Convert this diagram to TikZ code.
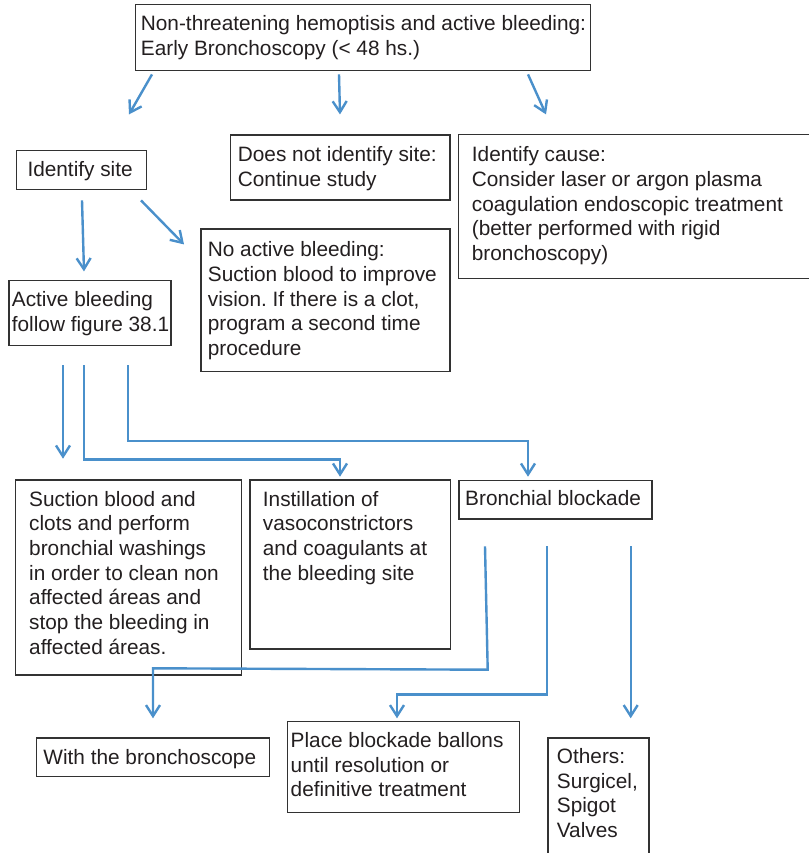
\documentclass[tikz,border=0pt]{standalone}
\usepackage{fontspec}
\setmainfont{Liberation Sans}
\usetikzlibrary{arrows.meta,calc}
\definecolor{txtc}{RGB}{35,31,32}
\definecolor{boxc}{RGB}{50,50,50}
\definecolor{arrc}{RGB}{74,144,203}
\frenchspacing
\newcommand{\ml}[1]{\begin{tabular}[t]{@{}l@{}}#1\end{tabular}}
\newcommand{\bx}[8]{%
  \node[box, minimum width={#4-#2}, minimum height={#5-#3}] (#1) at (#2,#3) {};
  \node[txt] (#1t) at ($(#1.north west)+(#6,#7)$) {\ml{#8}};}
\begin{document}
\begin{tikzpicture}[x=1pt,y=-1pt,
  box/.style={draw=boxc, line width=1.4pt, inner sep=0pt, anchor=north west},
  txt/.style={inner sep=0pt, anchor=base west, text=txtc, font=\fontsize{20.8}{24.7}\selectfont\frenchspacing},
  arr/.style={draw=arrc, line width=2.4pt, -{Straight Barb[length=11pt,width=14pt]}}]
\useasboundingbox[fill=white] (0,0) rectangle (808,853);

\bx{top}{135}{4}{590}{70}{5.7}{26.5}{Non-threatening hemoptisis and active bleeding:\\Early Bronchoscopy (< 48 hs.)}
\bx{site}{15.7}{150}{145.7}{189}{11.6}{26}{Identify site}
\bx{nosite}{230}{134.3}{449.3}{199.3}{7.7}{27.4}{Does not identify site:\\Continue study}
\bx{cause}{458}{134}{812}{278}{13.7}{27.7}{Identify cause:\\Consider laser or argon plasma\\coagulation endoscopic treatment\\(better performed with rigid\\bronchoscopy)}
\bx{noact}{200.3}{228.3}{449.3}{371}{7.4}{28.4}{No active bleeding:\\Suction blood to improve\\vision. If there is a clot,\\program a second time\\procedure}
\bx{act}{8.3}{280}{170.3}{345}{3.4}{26.7}{Active bleeding\\follow figure 38.1}
\bx{suc}{15}{479.3}{240.7}{674.3}{14}{26.7}{Suction blood and\\clots and perform\\bronchial washings\\in order to clean non\\affected áreas and\\stop the bleeding in\\affected áreas.}
\bx{inst}{249.3}{479.3}{450}{648.3}{13.4}{26.7}{Instillation of\\vasoconstrictors\\and coagulants at\\the bleeding site}
\bx{bron}{458.3}{480}{651.3}{518.3}{6.7}{25.7}{Bronchial blockade}
\bx{with}{35.8}{737.3}{268.6}{776}{7.4}{26.7}{With the bronchoscope}
\bx{place}{287}{720.7}{518.6}{811.7}{3.5}{26.6}{Place blockade ballons\\until resolution or\\definitive treatment}
\bx{oth}{547.3}{737.3}{648.3}{870}{9.4}{26}{Others:\\Surgicel,\\Spigot\\Valves}

% arrows from top box
\coordinate (a1s) at ($(top.south west)+(17,3)$);
\coordinate (a1e) at ($(top.south west)+(-6,43)$);
\coordinate (a2s) at ($(top.south west)+(204,3)$);
\coordinate (a2e) at ($(top.south west)+(205,43)$);
\coordinate (a3s) at ($(top.south west)+(393,3)$);
\coordinate (a3e) at ($(top.south west)+(411,43)$);
\draw[arr] (a1s) -- (a1e);
\draw[arr] (a2s) -- (a2e);
\draw[arr] (a3s) -- (a3e);

% arrows from identify site
\coordinate (a4s) at ($(site.south west)+(66.3,10)$);
\coordinate (a4e) at ($(site.south west)+(68.3,81)$);
\coordinate (a5s) at ($(site.south west)+(125.3,10)$);
\coordinate (a5e) at ($(site.south west)+(168.3,54)$);
\draw[arr] (a4s) -- (a4e);
\draw[arr] (a5s) -- (a5e);

% arrows from active bleeding
\coordinate (l1s) at ($(act.south west)+(54.7,19)$);
\coordinate (l1e) at ($(act.south west)+(54.7,112.3)$);
\coordinate (l2s) at ($(act.south west)+(75.7,19)$);
\coordinate (l2m) at ($(inst.north west)+(90.7,-20)$);
\coordinate (l2e) at ($(inst.north west)+(90.7,-2.6)$);
\coordinate (l3s) at ($(act.south west)+(119.7,19)$);
\coordinate (l3m) at ($(bron.north west)+(69.7,-39.3)$);
\coordinate (l3e) at ($(bron.north west)+(69.7,-3.3)$);
\draw[arr] (l1s) -- (l1e);
\draw[arr] (l2s) |- (l2m) -- (l2e);
\draw[arr] (l3s) |- (l3m) -- (l3e);

% arrows from bronchial blockade
\coordinate (l4s) at ($(bron.south west)+(26.7,26.7)$);
\coordinate (l4k) at ($(bron.south west)+(29.4,150)$);
\coordinate (l4m) at ($(with.north west)+(117.2,-69)$);
\coordinate (l4e) at ($(with.north west)+(117.2,-19)$);
\coordinate (l5s) at ($(bron.south west)+(88.7,26.7)$);
\coordinate (l5m) at ($(place.north west)+(110,-26.4)$);
\coordinate (l5e) at ($(place.north west)+(110,-2.4)$);
\coordinate (l6s) at ($(bron.south west)+(172.4,26.7)$);
\coordinate (l6e) at ($(oth.north west)+(83.4,-19)$);
\draw[arr] (l4s) -- (l4k) -- (l4m) -- (l4e);
\draw[arr] (l5s) |- (l5m) -- (l5e);
\draw[arr] (l6s) -- (l6e);
\end{tikzpicture}
\end{document}
